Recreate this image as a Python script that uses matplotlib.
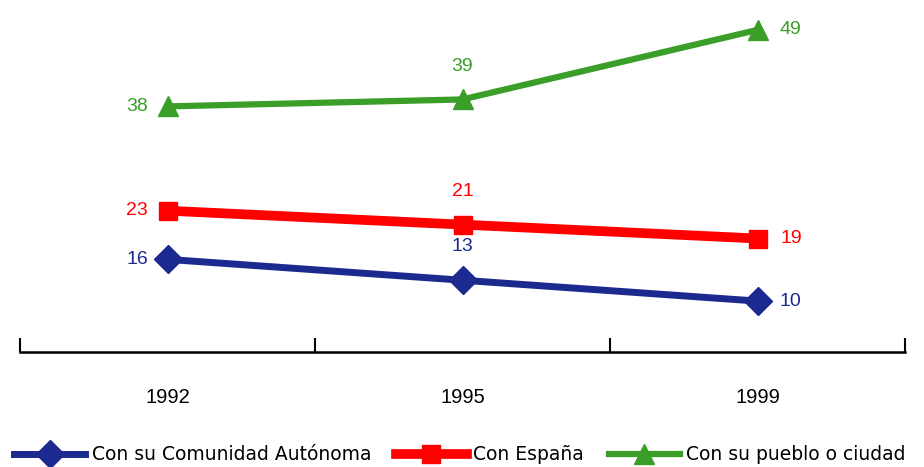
import matplotlib
matplotlib.use("Agg")
import matplotlib.pyplot as plt
from matplotlib.ticker import FixedLocator, NullFormatter

years = ["1992", "1995", "1999"]
comunidad = [16, 13, 10]
espana = [23, 21, 19]
pueblo = [38, 39, 49]
series_names = ["Con su Comunidad Autónoma", "Con España", "Con su pueblo o ciudad"]

plt.rcParams['font.family'] = ['Liberation Sans', 'DejaVu Sans']

fig = plt.figure(figsize=(9.24, 4.67), dpi=100)
ax = fig.add_axes([20/924, 1-352/467, 885/924, 352/467])

colors = ["#1c2a8f", "#ff0000", "#3a9e28"]
markers = ["D", "s", "^"]
msizes = [14, 13, 15]
lws = [5, 7, 4.5]
data = [comunidad, espana, pueblo]
x = list(range(len(years)))

for vals, c, m, ms, lw, name in zip(data, colors, markers, msizes, lws, series_names):
    ax.plot(x, vals, color=c, marker=m, markersize=ms, linewidth=lw, label=name,
            solid_joinstyle='miter')
    for i, v in enumerate(vals):
        if i == 0:
            ax.annotate(str(v), (i, v), xytext=(-22, 0), textcoords='offset points',
                        ha='center', va='center', color=c, fontsize=14)
        elif i == len(vals) - 1:
            ax.annotate(str(v), (i, v), xytext=(24, 0), textcoords='offset points',
                        ha='center', va='center', color=c, fontsize=14)
        else:
            ax.annotate(str(v), (i, v), xytext=(0, 24), textcoords='offset points',
                        ha='center', va='center', color=c, fontsize=14)

ax.set_xlim(-0.5, 2.5)
ax.set_ylim(2.68, 53.3)
for s in ['top', 'right', 'left']:
    ax.spines[s].set_visible(False)
ax.spines['bottom'].set_linewidth(1.8)
ax.set_yticks([])
ax.xaxis.set_major_locator(FixedLocator([-0.5, 0.5, 1.5, 2.5]))
ax.xaxis.set_major_formatter(NullFormatter())
ax.xaxis.set_minor_locator(FixedLocator(x))
ax.set_xticks(x, years, minor=True)
ax.tick_params(axis='x', which='major', direction='in', length=10, width=1.5)
ax.tick_params(axis='x', which='minor', length=0, pad=26, labelsize=14.5)

leg = fig.legend(loc='lower left', bbox_to_anchor=(0.012, 0.0), ncol=3, frameon=False,
                 prop={'family': ['DejaVu Sans'], 'size': 13.5},
                 handlelength=3.8, handletextpad=0.35, columnspacing=1.3,
                 borderaxespad=0.0, borderpad=0.15)

fig.savefig("out.png", dpi=100)
